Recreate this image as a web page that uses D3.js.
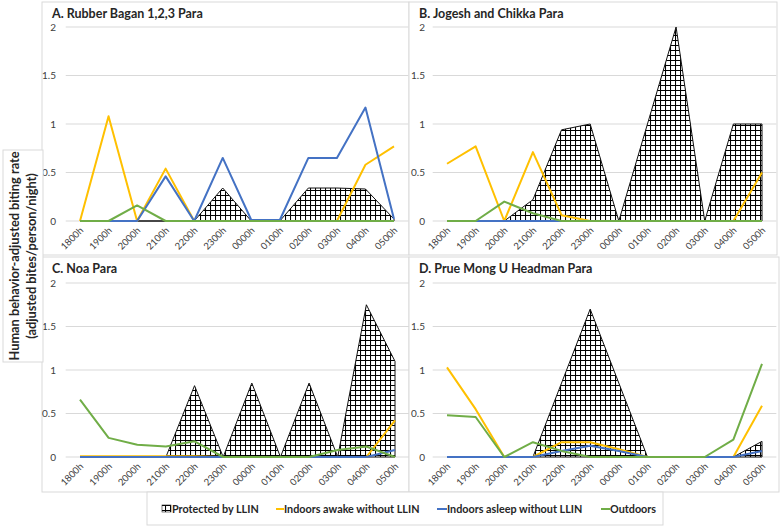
<!DOCTYPE html>
<html><head><meta charset="utf-8">
<script src="https://cdn.jsdelivr.net/npm/d3@7"></script>
<style>body{margin:0;background:#fff}svg{display:block;font-family:Lato,"Open Sans",sans-serif}</style>
</head><body><svg id="c" width="783" height="528"></svg>
<script>
const hours = ["1800h","1900h","2000h","2100h","2200h","2300h","0000h","0100h","0200h","0300h","0400h","0500h"];
const yTicks = [0, 0.5, 1, 1.5, 2];
const yTickLabels = ["0", "0.5", "1", "1.5", "2"];
const panelTitles = ["A. Rubber Bagan 1,2,3 Para", "B. Jogesh and Chikka Para", "C. Noa Para", "D. Prue Mong U Headman Para"];
const seriesNames = ["Protected by LLIN", "Indoors awake without LLIN", "Indoors asleep without LLIN", "Outdoors"];

// Panel A
const protectedA = [0, 0, 0, 0, 0, 0.34, 0, 0, 0.34, 0.34, 0.33, 0.02];
const awakeA     = [0, 1.08, 0, 0.54, 0, 0, 0, 0, 0, 0, 0.58, 0.77];
const asleepA    = [0, 0, 0, 0.46, 0, 0.65, 0.01, 0.01, 0.65, 0.65, 1.17, 0.02];
const outdoorsA  = [0, 0, 0.16, 0, 0, 0, 0, 0, 0, 0, 0, 0];
// Panel B
const protectedB = [0, 0, 0, 0.22, 0.94, 1.0, 0, 1.0, 2.0, 0, 1.0, 1.0];
const awakeB     = [0.59, 0.77, 0, 0.71, 0.06, 0, 0, 0, 0, 0, 0, 0.5];
const asleepB    = [0, 0, 0, 0, 0, 0, 0, 0, 0, 0, 0, 0];
const outdoorsB  = [0, 0, 0.2, 0.08, 0, 0, 0, 0, 0, 0, 0, 0];
// Panel C
const protectedC = [0, 0, 0, 0, 0.82, 0, 0.85, 0, 0.85, 0, 1.75, 1.1];
const awakeC     = [0.01, 0.01, 0.01, 0.01, 0.01, 0, 0, 0, 0, 0, 0, 0.42];
const asleepC    = [0, 0, 0, 0, 0, 0, 0, 0, 0, 0, 0, 0.08];
const outdoorsC  = [0.66, 0.22, 0.14, 0.12, 0.18, 0, 0, 0, 0, 0.08, 0.12, 0];
// Panel D
const protectedD = [0, 0, 0, 0, 0.85, 1.7, 0.85, 0, 0, 0, 0, 0.18];
const awakeD     = [1.03, 0.55, 0, 0, 0.17, 0.17, 0.09, 0, 0, 0, 0, 0.59];
const asleepD    = [0, 0, 0, 0, 0.07, 0.13, 0.07, 0, 0, 0, 0, 0.07];
const outdoorsD  = [0.48, 0.46, 0, 0.17, 0.07, 0, 0, 0, 0, 0, 0.2, 1.07];

const colors = {awake:"#FFC000", asleep:"#4472C4", outdoors:"#70AD47"};
const svg = d3.select("#c");

const defs = svg.append("defs");
const pat = defs.append("pattern").attr("id","grid").attr("patternUnits","userSpaceOnUse")
  .attr("width",5).attr("height",5);
pat.append("rect").attr("width",5).attr("height",5).attr("fill","#fff");
pat.append("path").attr("d","M0,0.5H5M0.5,0V5").attr("stroke","#000").attr("stroke-width",1.1);

const panels = [
  {title:panelTitles[0], prot:protectedA, awake:awakeA, asleep:asleepA, out:outdoorsA,
   box:[42,2,367,253], x0:80, x1:394, y0:221, y2:27, labelX:56},
  {title:panelTitles[1], prot:protectedB, awake:awakeB, asleep:asleepB, out:outdoorsB,
   box:[409,2,368,253], x0:447, x1:762, y0:221, y2:27, labelX:425},
  {title:panelTitles[2], prot:protectedC, awake:awakeC, asleep:asleepC, out:outdoorsC,
   box:[42,257,367,235], x0:80, x1:395, y0:457, y2:283, labelX:56},
  {title:panelTitles[3], prot:protectedD, awake:awakeD, asleep:asleepD, out:outdoorsD,
   box:[409,257,370,235], x0:447, x1:762, y0:457, y2:283, labelX:425}
];

panels.forEach(p => {
  const g = svg.append("g");
  g.append("rect").attr("x",p.box[0]).attr("y",p.box[1]).attr("width",p.box[2]).attr("height",p.box[3])
    .attr("fill","#fff").attr("stroke","#d9d9d9").attr("stroke-width",1);
  const step = (p.x1 - p.x0) / (hours.length - 1);
  const x = d3.scalePoint().domain(hours).range([p.x0, p.x1]);
  const y = d3.scaleLinear().domain([0,2]).range([p.y0, p.y2]);
  g.append("g").selectAll("line").data(yTicks).join("line")
    .attr("x1", p.x0 - step/2).attr("x2", p.x1 + step/2)
    .attr("y1", d => y(d)).attr("y2", d => y(d))
    .attr("stroke","#d9d9d9").attr("stroke-width",1);
  g.append("g").selectAll("text").data(yTicks).join("text")
    .attr("x", p.labelX).attr("y", d => y(d)).attr("dy","0.35em")
    .attr("text-anchor","end").attr("font-size",10).attr("fill","#404040")
    .text((d,i) => yTickLabels[i]);
  g.append("g").selectAll("text").data(hours).join("text")
    .attr("transform", d => `translate(${x(d)+4},${p.y0+10}) rotate(-45)`)
    .attr("text-anchor","end").attr("font-size",9.5).attr("fill","#404040")
    .text(d => d);
  g.append("text").attr("x", p.box[0]+10).attr("y", p.box[1]+16)
    .attr("font-size",12.5).attr("font-weight","bold").attr("fill","#262626").text(p.title);
  const area = d3.area().x((d,i) => x(hours[i])).y0(p.y0).y1(d => y(d));
  g.append("path").datum(p.prot).attr("d", area)
    .attr("fill","url(#grid)").attr("stroke","#111").attr("stroke-width",1);
  const line = d3.line().x((d,i) => x(hours[i])).y(d => y(d));
  [["awake",p.awake],["asleep",p.asleep],["out",p.out]].forEach(([k,vals]) => {
    g.append("path").datum(vals).attr("d", line).attr("fill","none")
      .attr("stroke", k==="awake"?colors.awake:k==="asleep"?colors.asleep:colors.outdoors)
      .attr("stroke-width",2).attr("stroke-linejoin","round");
  });
});

const yl = svg.append("g");
yl.append("rect").attr("x",3).attr("y",150).attr("width",40).attr("height",212)
  .attr("fill","#fff").attr("stroke","#d9d9d9");
yl.append("text").attr("transform","translate(19,256) rotate(-90)").attr("text-anchor","middle")
  .attr("font-size",12.8).attr("font-weight","bold").attr("fill","#262626").text("Human behavior-adjusted biting rate");
yl.append("text").attr("transform","translate(36,256) rotate(-90)").attr("text-anchor","middle")
  .attr("font-size",12.8).attr("font-weight","bold").attr("fill","#262626").text("(adjusted bites/person/night)");

const lg = svg.append("g");
lg.append("rect").attr("x",147).attr("y",492).attr("width",516).attr("height",33)
  .attr("fill","#fff").attr("stroke","#d9d9d9");
const ly = 509;
lg.append("rect").attr("x",162).attr("y",ly-4).attr("width",9).attr("height",7)
  .attr("fill","url(#grid)").attr("stroke","#222").attr("stroke-width",0.6);
const legItems = [
  {name:seriesNames[0], tx:172, c:null},
  {name:seriesNames[1], tx:284, c:colors.awake, lx:276},
  {name:seriesNames[2], tx:447, c:colors.asleep, lx:437},
  {name:seriesNames[3], tx:610, c:colors.outdoors, lx:601}
];
legItems.forEach(it => {
  if (it.c) lg.append("line").attr("x1",it.lx).attr("x2",it.tx).attr("y1",ly).attr("y2",ly)
    .attr("stroke",it.c).attr("stroke-width",2);
  lg.append("text").attr("x",it.tx).attr("y",ly).attr("dy","0.35em").attr("font-size",10.8)
    .attr("font-weight","bold").attr("fill","#262626").text(it.name);
});
</script></body></html>
